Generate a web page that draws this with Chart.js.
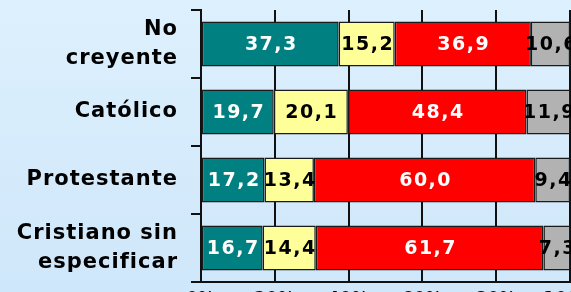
<!DOCTYPE html>
<html>
<head>
<meta charset="utf-8">
<script src="https://cdn.jsdelivr.net/npm/chart.js@4/dist/chart.umd.min.js"></script>
<style>
  html, body { margin: 0; padding: 0; }
  body { background: linear-gradient(#DDF0FD, #CFE7FA); }
  #wrap { width: 571px; height: 292px; overflow: hidden; position: relative; }
  #grafico { display: block; }
</style>
</head>
<body>
<div id="wrap"><canvas id="grafico" width="571" height="320"></canvas></div>
<script>
//datos del gráfico (porcentajes por grupo)
const categorias = [['No', 'creyente'], 'Católico', 'Protestante', ['Cristiano sin', 'especificar']];
const serie1 = [37.3, 19.7, 17.2, 16.7];
const serie2 = [15.2, 20.1, 13.4, 14.4];
const serie3 = [36.9, 48.4, 60.0, 61.7];
const serie4 = [10.6, 11.9, 9.4, 7.3];
const ticksX = [0, 20, 40, 60, 80, 100];

//colores de cada serie y del texto dentro de la barra
const colores = ['#008080', '#FFFF99', '#FF0000', '#B2B2B2'];
const coloresTexto = ['#FFFFFF', '#000000', '#FFFFFF', '#000000'];

//plugin sencillo para escribir los valores dentro de cada tramo
const etiquetas = {
    id: 'etiquetas',
    beforeDraw(chart) {
        chart.ctx.letterSpacing = '1px';
    },
    afterDatasetsDraw(chart) {
        const ctx = chart.ctx;
        ctx.save();
        ctx.letterSpacing = '1.5px';
        ctx.font = 'bold 19px "DejaVu Sans"';
        ctx.textAlign = 'center';
        ctx.textBaseline = 'middle';
        chart.data.datasets.forEach((ds, i) => {
            chart.getDatasetMeta(i).data.forEach((bar, j) => {
                const p = bar.getProps(['x', 'base', 'y'], true);
                ctx.fillStyle = coloresTexto[i];
                ctx.fillText(ds.data[j].toFixed(1).replace('.', ','), (p.x + p.base) / 2 + 1, p.y + 1);
            });
        });
        ctx.restore();
    }
};

const series = [serie1, serie2, serie3, serie4];

new Chart(document.getElementById('grafico'), {
    type: 'bar',
    data: {
        labels: categorias,
        datasets: series.map((valores, i) => ({
            label: 'Serie ' + (i + 1),
            data: valores,
            backgroundColor: colores[i],
            borderColor: '#1a1a1a',
            borderWidth: 1.5,
            borderSkipped: false,
            categoryPercentage: 1,
            barPercentage: 0.66
        }))
    },
    options: {
        indexAxis: 'y',
        responsive: false,
        animation: false,
        layout: { autoPadding: false, padding: { top: 10, right: 1, left: 0, bottom: 0 } },
        plugins: {
            legend: { display: false },
            tooltip: { enabled: false }
        },
        scales: {
            x: {
                stacked: true,
                min: 0,
                max: 100,
                afterBuildTicks: (scale) => { scale.ticks = ticksX.map(v => ({ value: v })); },
                afterFit: (scale) => {
                    scale.height = 38;
                    scale.paddingLeft = 0;
                    scale.paddingRight = 0;
                },
                grid: { color: '#111', lineWidth: 2, drawTicks: false },
                border: { display: true, color: '#111', width: 2 },
                ticks: {
                    padding: 7,
                    color: '#000',
                    font: { family: 'DejaVu Sans', size: 16, weight: 'bold' },
                    callback: (v) => v + '%'
                }
            },
            y: {
                stacked: true,
                afterFit: (scale) => {
                    scale.width = 201;
                    scale.paddingTop = 0;
                    scale.paddingBottom = 0;
                },
                grid: { offset: true, drawOnChartArea: false, tickLength: 10, color: '#111', lineWidth: 2 },
                border: { display: true, color: '#111', width: 2 },
                ticks: {
                    padding: 13,
                    color: '#000',
                    font: { family: 'DejaVu Sans', size: 21, weight: 'bold', lineHeight: 1.35 }
                }
            }
        }
    },
    plugins: [etiquetas]
});
</script>
</body>
</html>
